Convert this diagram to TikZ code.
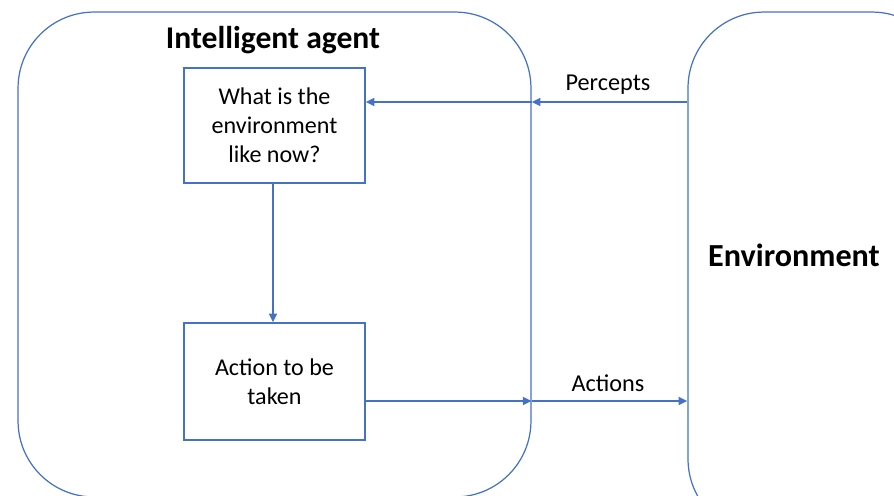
\documentclass[tikz,border=0pt]{standalone}
\usepackage{fontspec}
\setmainfont{Carlito}
\usepackage{tikz}
\usetikzlibrary{arrows.meta,shapes,positioning}
\definecolor{officeblue}{RGB}{68,114,196}

\begin{document}
\begin{tikzpicture}[x=0.02cm,y=-0.02cm,
  frame/.style={draw=officeblue,line width=0.7pt,rounded corners=1.52cm},
  box/.style={draw=officeblue,line width=0.7pt,minimum width=3.62cm,align=center,font=\fontsize{13.7}{16.5}\selectfont},
  flow/.style={draw=officeblue,line width=1.2pt,-{Triangle[length=5pt,width=4.5pt]}},
  lbl/.style={font=\fontsize{13.8}{16}\selectfont}]
\useasboundingbox (0,0) rectangle (894,495);
\clip (0,0) rectangle (894,495);

%agent and environment
\node[frame,minimum width=10.26cm,minimum height=9.7cm] (agent) at (274.5,254.5) {};
\node[frame,minimum width=5.2cm,minimum height=10.46cm] (env) at (818,273.5) {};
\node[font=\fontsize{18}{22}\selectfont\bfseries] (agenttitle) at (273,40) {Intelligent agent};
\node[font=\fontsize{18.3}{22}\selectfont\bfseries] (envtitle) at (794,255) {Environment};

%boxes
\node[box,minimum height=2.3cm] (state) at (274.5,125.5) {What is the\\environment\\like now?};
\node[box,minimum height=2.34cm] (action) at (274.5,381.5) {Action to be\\taken};

%percepts
\coordinate (pin) at (agent.east |- 0,102);
\coordinate (pout) at (env.west |- 0,102);
\draw[flow] (pout) -- (pin);
\draw[flow] (pin) -- (state.east |- pin);
\node[lbl] (percepts) at (608,85) {Percepts};

%actions
\coordinate (ain) at (agent.east |- 0,401);
\coordinate (aout) at (env.west |- 0,401);
\draw[flow] (action.east |- ain) -- (ain);
\draw[flow] (ain) -- (aout);
\node[lbl] (actions) at (608,383) {Actions};

\draw[flow] (state.south -| 273,0) -- (action.north -| 273,0);
\end{tikzpicture}
\end{document}
